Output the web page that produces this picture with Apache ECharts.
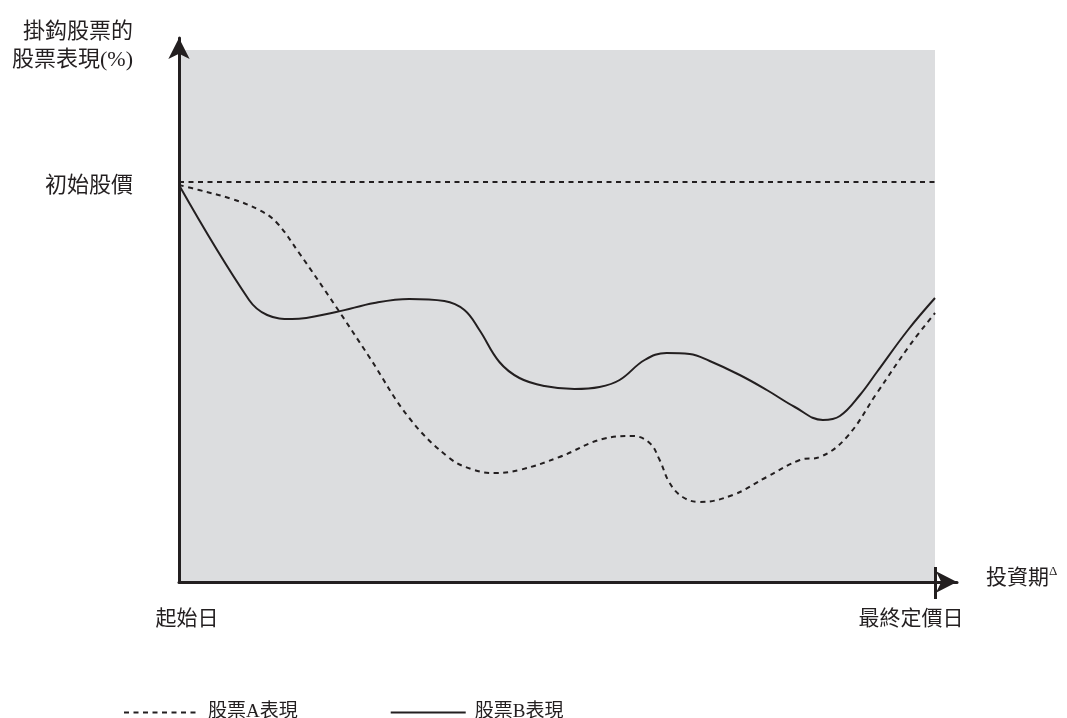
<!DOCTYPE html>
<html><head><meta charset="utf-8">
<script src="https://cdn.jsdelivr.net/npm/echarts@6/dist/echarts.min.js"></script>
<style>html,body{margin:0;padding:0;background:#fff}#c{width:1067px;height:718px}</style>
</head><body><div id="c"></div>
<script>
// x: investment period (0 = start date, 100 = final valuation date)
// y: performance, 100 = initial price
const seriesNames = ['股票A表現', '股票B表現'];
const stockA = [
  [0, 99.25], [2.65, 98], [7.02, 95.75], [10.6, 93], [12.85, 90], [15.89, 82.25],
  [20.79, 68.75], [25.17, 56.25], [30.46, 41], [35.76, 31], [39.07, 28], [41.72, 27.25],
  [45.03, 28], [50.33, 31.25], [56.03, 35.75], [60, 36.5], [62.25, 34.75], [63.58, 30.5],
  [64.9, 24.75], [66.62, 21.25], [68.87, 20], [73.25, 21.75], [77.75, 26.25], [82.12, 30.5],
  [84.77, 31.25], [88.34, 36.25], [92.32, 47.25], [96.69, 59.25], [100, 67.25]
];
const stockB = [
  [0, 99.25], [9.27, 70.5], [11.66, 66.75], [14.97, 65.75], [20.79, 67.5], [25.83, 69.75],
  [30.46, 70.75], [35.1, 70.25], [37.75, 68], [39.74, 63], [42.38, 55], [45.03, 51],
  [48.34, 49], [52.32, 48.25], [55.63, 48.75], [58.28, 50.5], [61.59, 55.5], [64.5, 57.25],
  [67.55, 57], [70.2, 55.25], [74.17, 51.75], [77.75, 48], [81.46, 43.75], [85.17, 40.5],
  [87.42, 41.5], [90.07, 46.75], [92.32, 52.5], [96.42, 63], [100, 71]
];
const periodStart = 0, periodEnd = 100;
const initialPrice = 100;
const shadeTop = 133;
const yAxisName = '掛鈎股票的\n股票表現(%)';
const xAxisName = '投資期';
const xLabels = { 0: '起始日', 100: '最終定價日' };
const yLabels = { 100: '初始股價' };

const FONT = '"Liberation Serif", "Noto Sans CJK TC", serif';
const INK = '#231f20';
// the axes run a little past the shaded area so their arrow heads sit beyond it
const xAxisMax = periodEnd * (957 - 179) / (935 - 179);
const yAxisMax = shadeTop * (582 - 38) / (582 - 50);
const chart = echarts.init(document.getElementById('c'));
chart.setOption({
  animation: false,
  textStyle: { fontFamily: FONT, color: INK },
  grid: { left: 179, right: 110, top: 38, bottom: 136, show: false },
  legend: {
    left: 118, top: 698, itemWidth: 75, itemHeight: 14, itemGap: 92,
    itemStyle: { opacity: 0 },
    textStyle: { fontFamily: FONT, fontSize: 19, color: INK, padding: [0, 0, 0, 4] },
    data: seriesNames
  },
  xAxis: [{
    type: 'value', min: periodStart, max: xAxisMax, z: 5,
    name: xAxisName + '{sup|Δ}', nameLocation: 'end', nameGap: 29,
    nameTextStyle: { fontFamily: FONT, fontSize: 21, color: INK, align: 'left', verticalAlign: 'middle', padding: [0, 0, 8, 0],
      rich: { sup: { fontSize: 13, fontFamily: FONT, color: INK, padding: [0, 0, 12, 0] } } },
    axisLine: { lineStyle: { color: INK, width: 3 }, symbol: ['none', 'arrow'], symbolSize: [16, 21] },
    axisTick: { show: true, customValues: [periodEnd], length: 17, lineStyle: { color: INK, width: 3 } },
    axisLabel: { customValues: [periodStart, periodEnd], margin: 27, fontSize: 21, color: INK, fontFamily: FONT,
      formatter: v => v === periodStart ? '{a|' + xLabels[0] + '}' : '{b|' + xLabels[100] + '}',
      rich: { a: { fontSize: 21, fontFamily: FONT, color: INK, padding: [0, 0, 0, 16] },
              b: { fontSize: 21, fontFamily: FONT, color: INK, padding: [0, 48, 0, 0] } } },
    splitLine: { show: false }
  }, {
    type: 'value', min: periodStart, max: xAxisMax, position: 'bottom', z: 5,
    axisLine: { show: false },
    axisTick: { show: true, inside: true, customValues: [periodEnd], length: 15, lineStyle: { color: INK, width: 3 } },
    axisLabel: { show: false }, splitLine: { show: false }
  }],
  yAxis: {
    type: 'value', min: 0, max: yAxisMax, z: 5,
    name: yAxisName, nameLocation: 'end', nameGap: -8,
    nameTextStyle: { fontFamily: FONT, fontSize: 22, color: INK, align: 'right', verticalAlign: 'middle', lineHeight: 28, padding: [0, 46, 0, 0] },
    axisLine: { show: true, lineStyle: { color: INK, width: 3 }, symbol: ['none', 'arrow'], symbolSize: [16, 21] },
    axisTick: { show: false },
    axisLabel: { customValues: [initialPrice], margin: 46, color: INK, fontFamily: FONT,
      formatter: v => '{a|' + (yLabels[v] || '') + '}',
      rich: { a: { fontSize: 22, fontFamily: FONT, color: INK, padding: [8, 0, 0, 0] } } },
    splitLine: { show: false }
  },
  series: [{
    name: 'period', type: 'line', data: [], z: 1, silent: true,
    markArea: { silent: true, itemStyle: { color: '#dcdddf' },
      data: [[{ xAxis: periodStart, yAxis: 0 }, { xAxis: periodEnd, yAxis: shadeTop }]] },
    markLine: { silent: true, symbol: 'none', label: { show: false },
      lineStyle: { color: INK, width: 2, type: [5, 4.5] },
      data: [[{ coord: [periodStart, initialPrice] }, { coord: [periodEnd, initialPrice] }]] }
  }, {
    name: seriesNames[0], type: 'line', data: stockA, smooth: 0.4, symbol: 'none', z: 3,
    lineStyle: { color: INK, width: 2, type: [5, 4.5] }, itemStyle: { color: INK }
  }, {
    name: seriesNames[1], type: 'line', data: stockB, smooth: 0.4, symbol: 'none', z: 3,
    lineStyle: { color: INK, width: 2, type: 'solid' }, itemStyle: { color: INK }
  }]
});
</script></body></html>
